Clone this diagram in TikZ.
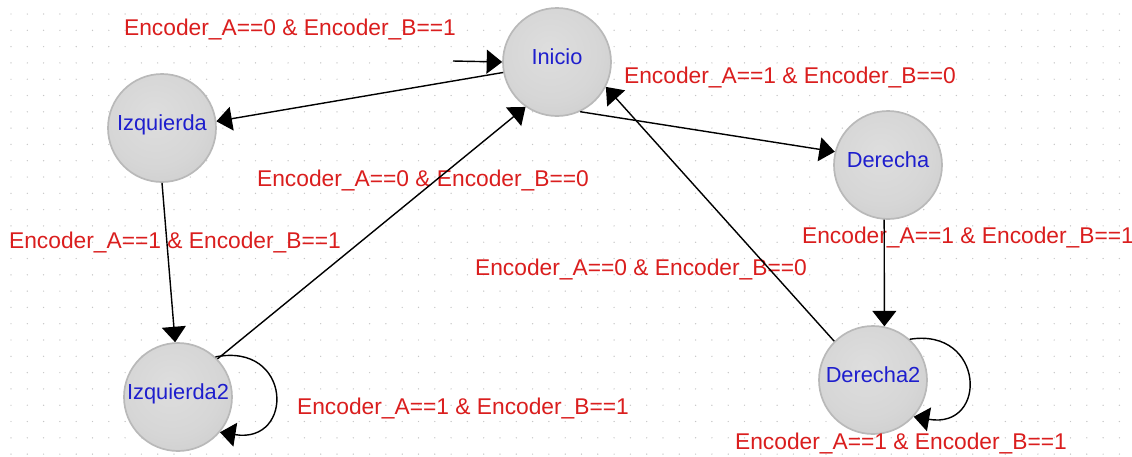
\documentclass[tikz,border=0pt]{standalone}
\usepackage{fontspec}
\setmainfont{Liberation Sans}
\usetikzlibrary{arrows.meta}

\definecolor{lblred}{RGB}{218,30,30}
\definecolor{lblblue}{RGB}{30,30,205}
\pgfdeclareradialshading{statebg}{\pgfpoint{-4bp}{6bp}}{%
  color(0bp)=(white!74!gray); color(22bp)=(white!68!gray);
  color(40bp)=(white!58!gray); color(48bp)=(white!46!gray);
  color(56bp)=(white!40!gray); color(64bp)=(white!38!gray)}

\tikzset{
  state/.style={circle, minimum size=108*0.025cm, inner sep=0pt,
    shading=statebg, draw=white!45!gray, line width=1.2pt,
    text=lblblue, text height=11pt, text depth=7pt,
    font=\fontsize{15.5}{18}\selectfont},
  cond/.style={text=lblred, inner sep=0pt, font=\fontsize{16.2}{19}\selectfont},
  trans/.style={-{Triangle[length=11pt,width=17pt]}, line width=1pt, black}
}

\begin{document}
\begin{tikzpicture}[x=0.025cm, y=-0.025cm]
        \useasboundingbox (0,0) rectangle (1132,456);
        \fill[white] (0,0) rectangle (1132,456);

        % Grid
        \foreach \i in {0,...,69} {
            \foreach \j in {0,...,27} {
                \fill[gray!45] (11+16.3*\i, 14+16.3*\j) circle (0.5pt);
            }
        }

        % States
        \node[state] (ini) at (557, 62) {Inicio};
        \node[state] (izq) at (162, 128) {Izquierda};
        \node[state] (izq2) at (178, 397) {Izquierda2};
        \node[state] (der) at (888, 165) {Derecha};
        \node[state] (der2) at (873, 380) {Derecha2};
        \coordinate (start) at (453, 61);

        % Conditions
        \node[cond] (c1) at (290, 30) {Encoder\_A==0 \& Encoder\_B==1};
        \node[cond] (c2) at (790, 78) {Encoder\_A==1 \& Encoder\_B==0};
        \node[cond] (c3) at (423, 181) {Encoder\_A==0 \& Encoder\_B==0};
        \node[cond] (c4) at (175, 243) {Encoder\_A==1 \& Encoder\_B==1};
        \node[cond] (c5) at (968, 238) {Encoder\_A==1 \& Encoder\_B==1};
        \node[cond] (c6) at (641, 270) {Encoder\_A==0 \& Encoder\_B==0};
        \node[cond] (c7) at (463, 408) {Encoder\_A==1 \& Encoder\_B==1};
        \node[cond] (c8) at (901, 443) {Encoder\_A==1 \& Encoder\_B==1};

        % Transitions
        \draw[trans] (start) -- (ini.west);
        \draw[trans] (ini.191) -- (izq.7);
        \draw[trans] (ini.-65) -- (der.166);
        \draw[trans] (izq.-90) -- (izq2.93);
        \draw[trans] (izq2.44) -- (ini.-125);
        \draw[trans] (der.-94) -- (der2.78);
        \draw[trans] (der2.135) -- (ini.-27);
        \draw[trans] (izq2.47) .. controls +(77,-15) and +(75,12) .. (izq2.-40);
        \draw[trans] (der2.48) .. controls +(75,-12) and +(75,13) .. (der2.-42);
    \end{tikzpicture}
\end{document}
